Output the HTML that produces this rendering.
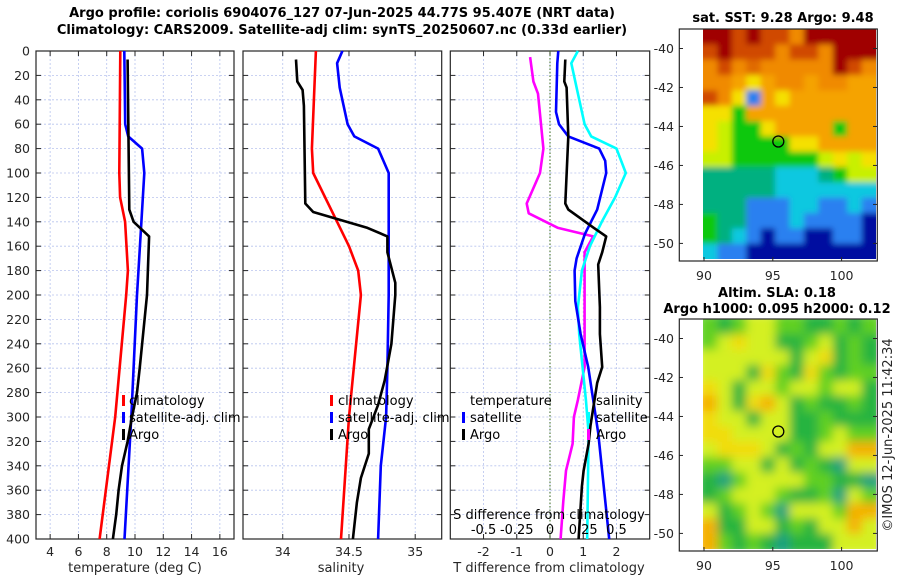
<!DOCTYPE html>
<html><head><meta charset="utf-8">
<style>
html,body{margin:0;padding:0;background:#fff;}
svg{display:block;font-family:"DejaVu Sans","Liberation Sans",sans-serif;}
</style></head>
<body>
<svg id="fig" width="900" height="580" viewBox="0 0 900 580" xmlns="http://www.w3.org/2000/svg">
<defs>
<filter id="blur2" x="0" y="0" width="1" height="1"><feGaussianBlur stdDeviation="5"/></filter>
<filter id="blur1" x="0" y="0" width="1" height="1"><feGaussianBlur stdDeviation="3"/></filter>
<clipPath id="clipm1"><rect x="703" y="29" width="173" height="230"/></clipPath>
<clipPath id="clipm2"><rect x="703" y="319" width="173" height="230"/></clipPath>
</defs>
<text x="342" y="17" text-anchor="middle" font-size="13" font-weight="bold" fill="#000">Argo profile: coriolis 6904076_127 07-Jun-2025 44.77S 95.407E (NRT data)</text>
<text x="342" y="34" text-anchor="middle" font-size="13" font-weight="bold" fill="#000">Climatology: CARS2009. Satellite-adj clim: synTS_20250607.nc (0.33d earlier)</text>
<g id="layer"></g>
<text x="783" y="22" text-anchor="middle" font-size="13" font-weight="bold">sat. SST: 9.28 Argo: 9.48</text>
<text x="777" y="297" text-anchor="middle" font-size="13" font-weight="bold">Altim. SLA: 0.18</text>
<text x="777" y="313" text-anchor="middle" font-size="13" font-weight="bold">Argo h1000: 0.095 h2000: 0.12</text>
<text transform="translate(892,435) rotate(-90)" text-anchor="middle" font-size="13" fill="#262626">©IMOS 12-Jun-2025 11:42:34</text>
</svg>
<script>
// ---- data ----
const depthTicks = [0,20,40,60,80,100,120,140,160,180,200,220,240,260,280,300,320,340,360,380,400];
const tempTicks = [4,6,8,10,12,14,16];
const salTicks = [34,34.5,35];
const tdTicks = [-2,-1,0,1,2];
const sdTicks = [-0.5,-0.25,0,0.25,0.5];
const sdTickLabels = ["-0.5","-0.25","0","0.25","0.5"];
// temperature profiles [depth, value]
const tempClimDepth = [0,100,120,140,180,200,300,400];
const tempClimVal = [8.96,8.89,8.95,9.3,9.5,9.38,8.6,7.5];
const tempSatDepth = [0,60,70,80,100,140,200,300,400];
const tempSatVal = [9.24,9.31,9.52,10.5,10.66,10.45,10.14,9.74,9.26];
const tempArgoDepth = [7,130,140,152,200,260,280,300,320,340,360,380,400];
const tempArgoVal = [9.48,9.6,9.9,11.0,10.85,10.33,10.14,9.79,9.48,9.08,8.84,8.67,8.44];
// salinity profiles
const salClimDepth = [0,80,100,140,160,180,200,300,400];
const salClimVal = [34.25,34.22,34.23,34.41,34.5,34.57,34.59,34.5,34.44];
const salSatDepth = [0,10,30,60,70,80,100,200,260,300,340,400];
const salSatVal = [34.45,34.41,34.43,34.49,34.54,34.72,34.8,34.8,34.79,34.78,34.74,34.72];
const salArgoDepth = [7,25,32,45,125,132,145,152,165,190,200,240,270,290,310,330,350,370,400];
const salArgoVal = [34.1,34.11,34.15,34.16,34.17,34.23,34.64,34.79,34.79,34.85,34.85,34.82,34.77,34.72,34.65,34.65,34.59,34.56,34.53];
// differences
const tdSatDepth = [0,10,50,60,70,80,90,100,130,150,170,180,205,232,259,286,313,400];
const tdSatVal = [0.25,0.22,0.18,0.27,0.55,1.48,1.66,1.69,1.42,1.05,0.8,0.74,0.76,0.92,1.15,1.3,1.45,1.78];
const tdArgoDepth = [7,25,30,70,125,130,145,152,165,175,210,232,259,272,307,322,344,357,400];
const tdArgoVal = [0.46,0.43,0.5,0.55,0.46,0.55,1.32,1.69,1.57,1.45,1.5,1.5,1.57,1.42,1.22,1.16,1.01,0.96,0.86];
const sdSatDepth = [0,10,30,60,70,80,100,120,140,160,180,210,232,286,313,400];
const sdSatVal = [0.21,0.16,0.2,0.26,0.31,0.5,0.57,0.49,0.39,0.3,0.24,0.21,0.22,0.27,0.29,0.28];
const sdArgoDepth = [5,25,35,80,100,125,133,145,152,165,210,259,286,300,322,344,369,400];
const sdArgoVal = [-0.15,-0.125,-0.09,-0.05,-0.075,-0.175,-0.16,0.06,0.325,0.26,0.26,0.26,0.21,0.18,0.17,0.12,0.1,0.08];
// map colour grids
const sstRows = ["RRrRrroRRRRR","rRrrrorroRRR","oroEoooooRro","ooOyOooOooOO","roybOyOOOOOO","yygOOOOOOOOO","yYggyOOOOgOO","yYggggyyOOOO","YYggggggYyYy","GGGGGcccGgYY","GGGGGccccccc","GGGbbbccbbcb","gGGbbbcbbbbB","gGcbBbbBBbbB","cbbBBBBBBBBB"];
const slaRows = ["gGgyyggGGgGg","gyYyyGGgyGgG","yyyyyyGyYGgG","yyyGYgGYgGgg","YyGyygyygyyG","OyGYOyGgGGgG","YyyGyyGGgGGG","YYyyyyGGgygg","yYYYyGgGyyOO","ggyyGyGgGTyy","GTgyyyyggGGT","GgyyygGGgTyg","yGgygTyyygOO","OGGyyGgGyyOy","OgGgGTGGGyyy"];
const lonTicks = [90,95,100];
const latTicks = [-40,-42,-44,-46,-48,-50];
const argoLon = 95.4, argoLat = -44.77;

const NS="http://www.w3.org/2000/svg";
const layer=document.getElementById('layer');
function mk(tag,attrs,parent){const e=document.createElementNS(NS,tag);for(const k in attrs)e.setAttribute(k,attrs[k]);(parent||layer).appendChild(e);return e;}
const Y0=51, Y1=539;
function yD(d){return Y0+(d/400)*(Y1-Y0);}
function lin(d0,d1,r0,r1){return v=>r0+(v-d0)/(d1-d0)*(r1-r0);}
const xT=lin(3,17,36,234), xS=lin(33.7,35.2,243,441.7), xTD=lin(-3,3,450.3,649.7), xSD=lin(-0.75,0.75,450.3,649.7);

function panel(name,x0,x1,xs,ticks,labels){
  const g=mk('g',{});
  
  
  depthTicks.forEach(d=>{const l=mk('line',{x1:x0,x2:x1,y1:yD(d),y2:yD(d),stroke:'#b8c4ee','stroke-width':0.8,'stroke-dasharray':'2,2'},g);
    
    mk('line',{x1:x0,x2:x0+5,y1:yD(d),y2:yD(d),stroke:'#262626','stroke-width':1},g);
    mk('line',{x1:x1-5,x2:x1,y1:yD(d),y2:yD(d),stroke:'#262626','stroke-width':1},g);});
  ticks.forEach((t,i)=>{const x=xs(t);
    const l=mk('line',{x1:x,x2:x,y1:Y0,y2:Y1,stroke:'#b8c4ee','stroke-width':0.8,'stroke-dasharray':'2,2'},g);
    
    mk('line',{x1:x,x2:x,y1:Y1,y2:Y1-5,stroke:'#262626'},g);mk('line',{x1:x,x2:x,y1:Y0,y2:Y0+5,stroke:'#262626'},g);
    const tx=mk('text',{x:x,y:556,'text-anchor':'middle','font-size':12.5,fill:'#262626'},g);tx.textContent=labels?labels[i]:t;
    });
  const r=mk('rect',{x:x0,y:Y0,width:x1-x0,height:Y1-Y0,fill:'none',stroke:'#262626','stroke-width':1.2},g);
  
  return g;
}
function series(g,name,depths,vals,xs,color){
  const pts=depths.map((d,i)=>xs(vals[i]).toFixed(1)+','+yD(d).toFixed(1)).join(' ');
  const p=mk('polyline',{points:pts,fill:'none',stroke:color,'stroke-width':2.6,'stroke-linejoin':'round'},g);
  
  
}
function txt(g,name,x,y,s,opts){const t=mk('text',Object.assign({x:x,y:y,'font-size':13,fill:'#000'},opts||{}),g);t.textContent=s;
  
  return t;}
function mark(g,name,x,y,color){const r=mk('rect',{x:x,y:y-11,width:3,height:11,fill:color},g);
  
  }

// y labels
depthTicks.forEach(d=>{const t=mk('text',{x:30,y:yD(d)+4.5,'text-anchor':'end','font-size':12.5,fill:'#262626'});t.textContent=d;
  
  });

// panel 1
const p1=panel('temperature-panel',36,234,xT,tempTicks);
series(p1,'temp-climatology-line',tempClimDepth,tempClimVal,xT,'#ff0000');
series(p1,'temp-satellite-line',tempSatDepth,tempSatVal,xT,'#0000ff');
series(p1,'temp-argo-line',tempArgoDepth,tempArgoVal,xT,'#000000');
txt(p1,'temp-x-axis-title',135,572,'temperature (deg C)',{'text-anchor':'middle',fill:'#262626'});
mark(p1,'legend-marker-climatology',122,406,'#ff0000');txt(p1,'legend-climatology',129,405,'climatology');
mark(p1,'legend-marker-satellite',122,423,'#0000ff');txt(p1,'legend-satellite-adj',129,422,'satellite-adj. clim');
mark(p1,'legend-marker-argo',122,440,'#000');txt(p1,'legend-argo',129,439,'Argo');

// panel 2
const p2=panel('salinity-panel',243,441.7,xS,salTicks);
series(p2,'sal-climatology-line',salClimDepth,salClimVal,xS,'#ff0000');
series(p2,'sal-satellite-line',salSatDepth,salSatVal,xS,'#0000ff');
series(p2,'sal-argo-line',salArgoDepth,salArgoVal,xS,'#000000');
txt(p2,'sal-x-axis-title',341,572,'salinity',{'text-anchor':'middle',fill:'#262626'});
mark(p2,'legend-marker-climatology',330,406,'#ff0000');txt(p2,'legend-climatology',338,405,'climatology');
mark(p2,'legend-marker-satellite',330,423,'#0000ff');txt(p2,'legend-satellite-adj',338,422,'satellite-adj. clim');
mark(p2,'legend-marker-argo',330,440,'#000');txt(p2,'legend-argo',338,439,'Argo');

// panel 3
const p3=panel('difference-panel',450.3,649.7,xTD,tdTicks);
const z=mk('line',{x1:xTD(0),x2:xTD(0),y1:Y0,y2:Y1,stroke:'#3a6a1a','stroke-width':1,'stroke-dasharray':'1.5,2'},p3);

series(p3,'sdiff-argo-line',sdArgoDepth,sdArgoVal,xSD,'#ff00ff');
series(p3,'sdiff-satellite-line',sdSatDepth,sdSatVal,xSD,'#00ffff');
series(p3,'tdiff-satellite-line',tdSatDepth,tdSatVal,xTD,'#0000ff');
series(p3,'tdiff-argo-line',tdArgoDepth,tdArgoVal,xTD,'#000000');
txt(p3,'tdiff-x-axis-title',549,572,'T difference from climatology',{'text-anchor':'middle',fill:'#262626'});
txt(p3,'sdiff-axis-title',549,519,'S difference from climatology',{'text-anchor':'middle'});
sdTicks.forEach((t,i)=>txt(p3,'sdiff-tick-label',xSD(t),534,sdTickLabels[i],{'text-anchor':'middle'}));
txt(p3,'legend-temperature-header',470,405,'temperature');
mark(p3,'legend-marker-tsat',462,423,'#0000ff');txt(p3,'legend-tsat',470,422,'satellite');
mark(p3,'legend-marker-targo',462,440,'#000');txt(p3,'legend-targo',470,439,'Argo');
txt(p3,'legend-salinity-header',596,405,'salinity');
mark(p3,'legend-marker-ssat',587,423,'#00ffff');txt(p3,'legend-ssat',596,422,'satellite');
mark(p3,'legend-marker-sargo',587,440,'#ff00ff');txt(p3,'legend-sargo',596,439,'Argo');

// maps
const sstCol={R:'#a00000',r:'#d04a00',o:'#f08a00',O:'#f5a300',E:'#e06a00',y:'#f5e000',Y:'#c8f000',g:'#10c810',G:'#00b080',c:'#10c8e0',b:'#2a80f0',B:'#0010a0'};
const slaCol={y:'#d4f020',Y:'#f2dc10',O:'#f5b000',g:'#60d020',G:'#28b440',T:'#1ea080',' ':'#60d020'};
function mapPanel(name,top,rows,cols,clip,filt){
  const g=mk('g',{});
  
  
  const img=mk('g',{'clip-path':'url(#'+clip+')'},g);
  const inner=mk('g',{filter:'url(#'+filt+')'},img);
  const cw=173/12, ch=230/15, pad=6;
  rows.forEach((row,ri)=>{row.replace(/ /g,'g').slice(0,12).split('').forEach((c,ci)=>{
    const x=703+ci*cw-(ci===0?pad:0), y=top+ri*ch-(ri===0?pad:0);
    const w=cw+0.5+(ci===0?pad:0)+(ci===11?pad:0), h=ch+0.5+(ri===0?pad:0)+(ri===14?pad:0);
    const r=mk('rect',{x:x,y:y,width:w,height:h,fill:cols[c]||'#60d020'},inner);
    
    });});
  const lonS=lin(90,102.5,704,876), latS=lin(-39,-50.8,top,top+230);
  const fr=mk('rect',{x:679.3,y:top,width:198,height:232,fill:'none',stroke:'#262626','stroke-width':1.2},g);
  
  lonTicks.forEach(t=>{const x=lonS(t);mk('line',{x1:x,x2:x,y1:top+232,y2:top+228,stroke:'#262626'},g);
    txt(g,'lon-tick-label',x,top+251,String(t),{'text-anchor':'middle','font-size':12.5,fill:'#262626'});});
  latTicks.forEach(t=>{const y=latS(t);mk('line',{x1:877,x2:873,y1:y,y2:y,stroke:'#262626'},g);mk('line',{x1:679,x2:683,y1:y,y2:y,stroke:'#262626'},g);
    txt(g,'lat-tick-label',674,y+4.5,String(t),{'text-anchor':'end','font-size':12.5,fill:'#262626'});});
  const c=mk('circle',{cx:lonS(argoLon),cy:latS(argoLat),r:5.5,fill:'none',stroke:'#000','stroke-width':1.3},g);
  
  
}
mapPanel('sst-map',29,sstRows,sstCol,'clipm1','blur1');
mapPanel('sla-map',319,slaRows,slaCol,'clipm2','blur2');
</script>
</body></html>
